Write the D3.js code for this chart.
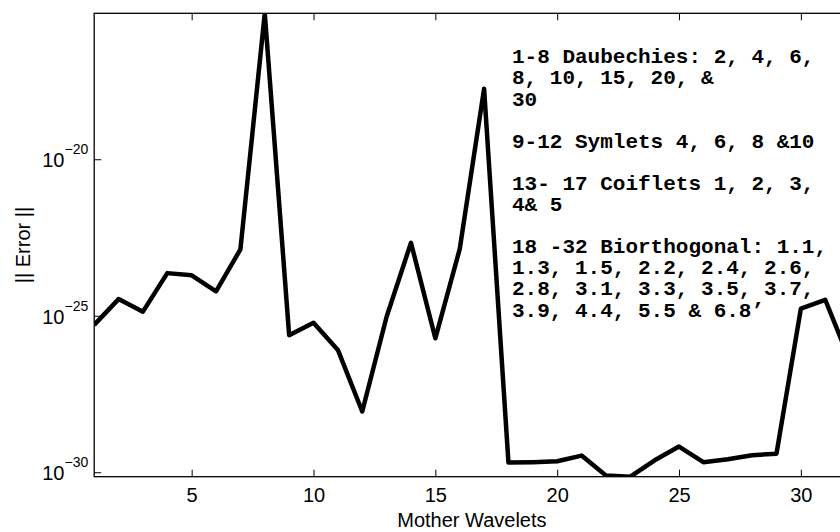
<!DOCTYPE html>
<html>
<head>
<meta charset="utf-8">
<script src="https://cdn.jsdelivr.net/npm/d3@7"></script>
<style>
  body { margin: 0; background: #fff; }
  svg { display: block; }
  .tick text { font-family: "Liberation Sans", Arial, sans-serif; font-size: 20px; fill: #000; }
  .axisText { font-family: "Liberation Sans", Arial, sans-serif; font-size: 20px; fill: #000; }
  .note { font-family: "Liberation Mono", "Courier New", monospace; font-weight: bold; font-size: 21px; fill: #000; }
</style>
</head>
<body>
<div class="chart"></div>
<script>
// Data
//= ================================
var wavelets = [1, 2, 3, 4, 5, 6, 7, 8, 9, 10, 11, 12, 13, 14, 15, 16,
  17, 18, 19, 20, 21, 22, 23, 24, 25, 26, 27, 28, 29, 30, 31, 32];

var errors = [5.1e-26, 3.4e-25, 1.35e-25, 2.3e-24, 1.95e-24, 6.0e-25, 1.32e-23, 4.6e-16,
  2.4e-26, 6.0e-26, 8.1e-27, 8.7e-29, 9.3e-26, 2.14e-23, 1.9e-26, 1.35e-23,
  1.78e-18, 2.04e-30, 2.1e-30, 2.24e-30, 3.4e-30, 7.9e-31, 7.2e-31, 2.4e-30,
  6.6e-30, 2.1e-30, 2.6e-30, 3.5e-30, 3.9e-30, 1.7e-25, 3.24e-25, 3.8e-27];

var xTicks = [5, 10, 15, 20, 25, 30];
var yTicks = [1e-30, 1e-25, 1e-20];
var yTickExponents = ["\u221230", "\u221225", "\u221220"];

var noteLines = [
  "1-8 Daubechies: 2, 4, 6,",
  "8, 10, 15, 20, &",
  "30",
  "",
  "9-12 Symlets 4, 6, 8 &10",
  "",
  "13- 17 Coiflets 1, 2, 3,",
  "4& 5",
  "",
  "18 -32 Biorthogonal: 1.1,",
  "1.3, 1.5, 2.2, 2.4, 2.6,",
  "2.8, 3.1, 3.3, 3.5, 3.7,",
  "3.9, 4.4, 5.5 & 6.8\u2019"
];

// Step 1: Set up our chart
//= ================================
var svgWidth = 840;
var svgHeight = 532;

var margin = { top: 13.3, left: 94.2 };
var width = 755.4;   // axes run past the right edge of the window
var height = 463.4;

var svg = d3.select(".chart")
  .append("svg")
  .attr("width", svgWidth)
  .attr("height", svgHeight);

var chartGroup = svg.append("g")
  .attr("transform", `translate(${margin.left}, ${margin.top})`);

svg.append("defs").append("clipPath")
  .attr("id", "plotClip")
  .append("rect")
  .attr("x", 0)
  .attr("y", 0)
  .attr("width", width)
  .attr("height", height);

// Step 2: Scales
//= ================================
var xLinearScale = d3.scaleLinear()
  .domain(d3.extent(wavelets))
  .range([0, width]);

var yLogScale = d3.scaleLog()
  .domain(d3.extent(errors))
  .range([height, 0]);

// Step 3: Axes (ticks point inward, MATLAB style)
//= ================================
var bottomAxis = d3.axisBottom(xLinearScale)
  .tickValues(xTicks)
  .tickSizeInner(-7)
  .tickSizeOuter(0)
  .tickPadding(11.4);

var topAxis = d3.axisTop(xLinearScale)
  .tickValues(xTicks)
  .tickSizeInner(-7)
  .tickSizeOuter(0)
  .tickFormat("");

var leftAxis = d3.axisLeft(yLogScale)
  .tickValues(yTicks)
  .tickSizeInner(-7)
  .tickSizeOuter(0)
  .tickPadding(6);

var xAxis = chartGroup.append("g")
  .attr("transform", `translate(0, ${height})`)
  .call(bottomAxis);

chartGroup.append("g").call(topAxis);

var yAxis = chartGroup.append("g").call(leftAxis);

chartGroup.selectAll(".domain").remove();
chartGroup.selectAll(".tick line").attr("stroke", "#000").attr("stroke-width", 1);

// y tick labels as 10 with superscript exponent
yAxis.selectAll(".tick text")
  .text(null)
  .attr("dy", "0.37em")
  .each(function(d, i) {
    var t = d3.select(this);
    t.append("tspan").text("10");
    t.append("tspan")
      .attr("dy", -12.7)
      .style("font-size", "14px")
      .text(yTickExponents[i]);
  });

// Box around the plot
chartGroup.append("rect")
  .attr("x", 0)
  .attr("y", 0)
  .attr("width", width)
  .attr("height", height)
  .attr("fill", "none")
  .attr("stroke", "#000")
  .attr("stroke-width", 1.3);

// Step 4: The line
//= ================================
var errorLine = d3.line()
  .x((d, i) => xLinearScale(wavelets[i]))
  .y(d => yLogScale(d));

chartGroup.append("path")
  .datum(errors)
  .attr("clip-path", "url(#plotClip)")
  .attr("d", errorLine)
  .attr("fill", "none")
  .attr("stroke", "#000")
  .attr("stroke-width", 4.5)
  .attr("stroke-linejoin", "round");

// Step 5: Labels
//= ================================
svg.append("text")
  .attr("class", "axisText")
  .attr("x", margin.left + width / 2)
  .attr("y", 526.7)
  .attr("text-anchor", "middle")
  .text("Mother Wavelets");

svg.append("text")
  .attr("class", "axisText")
  .attr("transform", `translate(30, ${margin.top + height / 2}) rotate(-90)`)
  .attr("text-anchor", "middle")
  .text("|| Error ||");

var note = svg.append("text")
  .attr("class", "note")
  .attr("xml:space", "preserve");

noteLines.forEach(function(line, i) {
  if (line === "") return;
  note.append("tspan")
    .attr("x", 512)
    .attr("y", 63.3 + i * 21.1)
    .text(line);
});
</script>
</body>
</html>
